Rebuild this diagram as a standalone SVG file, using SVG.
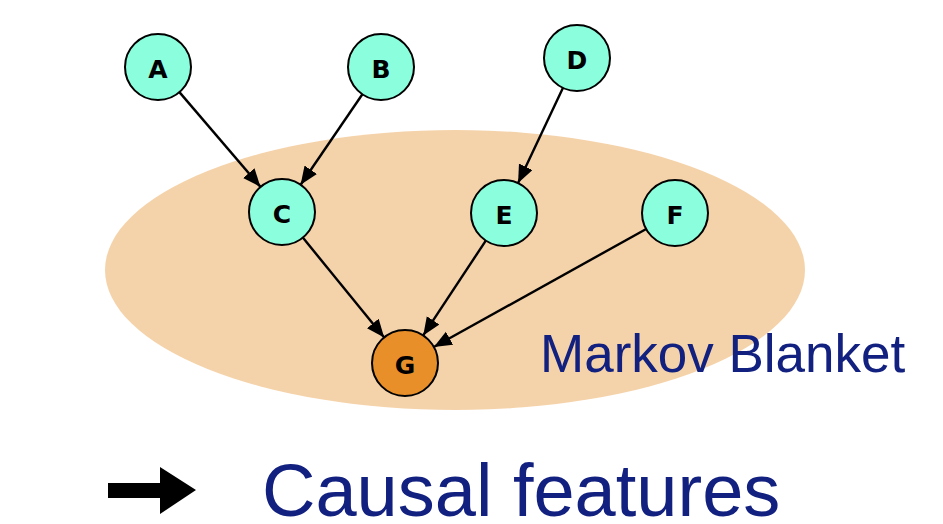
<svg xmlns="http://www.w3.org/2000/svg" width="943" height="524" viewBox="0 0 943 524">
  <style>
    .node circle { fill: #8BFFDD; stroke: #000; stroke-width: 2; }
    .node.target circle { fill: #E88F2A; }
    .node text { font-family: "DejaVu Sans", Verdana, sans-serif; font-weight: bold; font-size: 25px; text-anchor: middle; dominant-baseline: central; fill: #000; }
    .edge { stroke: #000; stroke-width: 2.4; fill: none; marker-end: url(#head); }
    .label { font-family: "Liberation Sans", Arial, sans-serif; fill: #12207F; }
  </style>
  <defs>
    <marker id="head" markerUnits="userSpaceOnUse" markerWidth="19" markerHeight="16" refX="18" refY="7.5" orient="auto">
      <path d="M0,0 L18,7.5 L0,15 z" fill="#000"/>
    </marker>
  </defs>

  <rect width="943" height="524" fill="#fff"/>

  <!-- Markov blanket region -->
  <ellipse cx="455" cy="270" rx="350" ry="140" fill="#F5D3AA"/>
  <text class="label" x="540" y="372" font-size="53">Markov Blanket</text>

  <!-- connectors -->
  <g id="edges">
    <line class="edge" x1="179.4" y1="92.1" x2="260.5" y2="186.9"/>
    <line class="edge" x1="362.4" y1="94.3" x2="300.6" y2="184.7"/>
    <line class="edge" x1="562.9" y1="87.9" x2="518.1" y2="183.1"/>
    <line class="edge" x1="302.8" y1="237.6" x2="384.2" y2="337.4"/>
    <line class="edge" x1="485.8" y1="240.6" x2="423.2" y2="335.4"/>
    <line class="edge" x1="646.2" y1="229.0" x2="433.8" y2="347.0"/>
  </g>

  <!-- nodes -->
  <g id="A" class="node"><circle cx="158" cy="67" r="33"/><text x="158" y="69">A</text></g>
  <g id="B" class="node"><circle cx="381" cy="67" r="33"/><text x="381" y="69">B</text></g>
  <g id="C" class="node"><circle cx="282" cy="212" r="33"/><text x="282" y="214">C</text></g>
  <g id="D" class="node"><circle cx="577" cy="58" r="33"/><text x="577" y="60">D</text></g>
  <g id="E" class="node"><circle cx="504" cy="213" r="33"/><text x="504" y="215">E</text></g>
  <g id="F" class="node"><circle cx="675" cy="213" r="33"/><text x="675" y="215">F</text></g>
  <g id="G" class="node target"><circle cx="405" cy="363" r="33"/><text x="405" y="365">G</text></g>

  <!-- conclusion -->
  <g id="conclusion">
    <path d="M108,483 L160,483 L160,467 L196,490 L160,514 L160,498 L108,498 z" fill="#000"/>
    <text class="label" x="262" y="516" font-size="74">Causal features</text>
  </g>
</svg>
